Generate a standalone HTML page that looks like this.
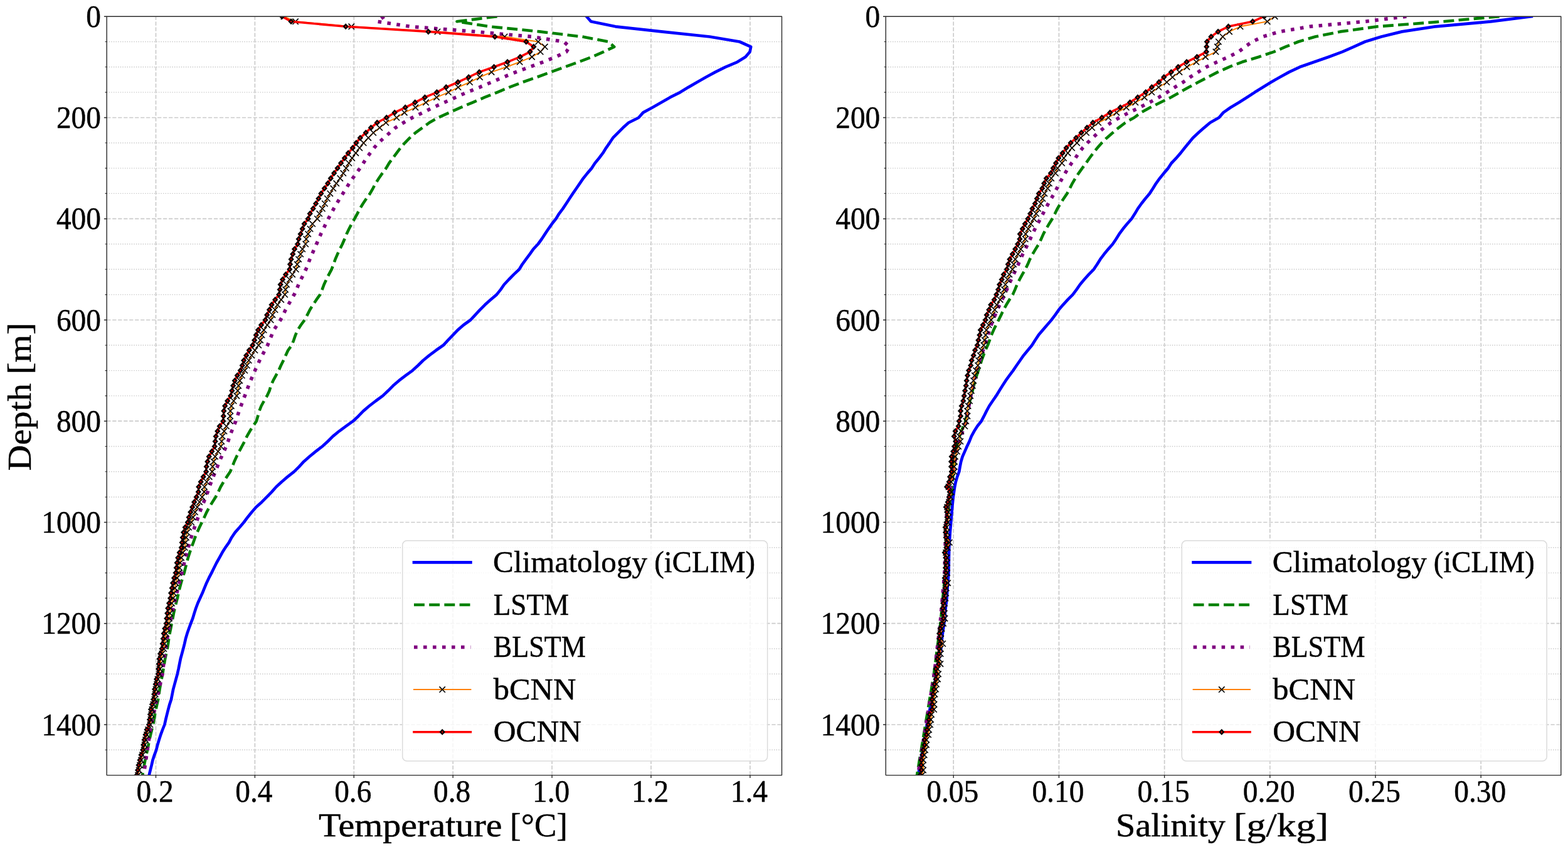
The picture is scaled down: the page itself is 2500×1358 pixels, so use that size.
<!DOCTYPE html>
<html lang="en">
<head>
<meta charset="utf-8">
<title>Depth profiles: Temperature and Salinity</title>
<style>html,body{margin:0;padding:0;background:#fff;}body{width:2500px;height:1358px;overflow:hidden;}svg{display:block;}text{fill:#000;stroke:#000;stroke-width:0.45px;}</style>
</head>
<body>
<svg width="2500" height="1358" viewBox="0 0 2500 1358" font-family="'Liberation Serif', 'DejaVu Serif', serif" stroke-linejoin="round">
<rect width="2500" height="1358" fill="#fff"/>
<defs>
<clipPath id="cl"><rect x="170.2" y="26.2" width="1076.3" height="1209.4"/></clipPath>
<clipPath id="cr"><rect x="1412.3" y="26.2" width="1076.5" height="1209.4"/></clipPath>
<g id="mx"><path d="M-4.7,-4.7L4.7,4.7M-4.7,4.7L4.7,-4.7" stroke="#000" stroke-width="1.6" fill="none"/></g>
<g id="md"><path d="M0,-5L4.7,0L0,5L-4.7,0Z" fill="#000"/><path d="M0,-1.5L1.4,0L0,1.5L-1.4,0Z" fill="#f00"/></g>
</defs>
<g fill="none" stroke-linecap="butt">
<path d="M170.2,66.5H1246.5 M170.2,106.8H1246.5 M170.2,147.1H1246.5 M170.2,227.8H1246.5 M170.2,268.1H1246.5 M170.2,308.4H1246.5 M170.2,389H1246.5 M170.2,429.3H1246.5 M170.2,469.6H1246.5 M170.2,550.3H1246.5 M170.2,590.6H1246.5 M170.2,630.9H1246.5 M170.2,711.5H1246.5 M170.2,751.8H1246.5 M170.2,792.2H1246.5 M170.2,872.8H1246.5 M170.2,913.1H1246.5 M170.2,953.4H1246.5 M170.2,1034H1246.5 M170.2,1074.3H1246.5 M170.2,1114.7H1246.5 M170.2,1195.3H1246.5" stroke="#c6c6c6" stroke-width="1.36" stroke-dasharray="1.356 2.238"/>
<path d="M170.2,187.5H1246.5 M170.2,348.7H1246.5 M170.2,510H1246.5 M170.2,671.2H1246.5 M170.2,832.5H1246.5 M170.2,993.7H1246.5 M170.2,1155H1246.5 M248.5,1235.6V26.2 M406.4,1235.6V26.2 M564.3,1235.6V26.2 M722.2,1235.6V26.2 M880.1,1235.6V26.2 M1038,1235.6V26.2 M1195.9,1235.6V26.2" stroke="#cbcbcb" stroke-width="1.7" stroke-dasharray="6.27 2.714"/>
</g>
<g clip-path="url(#cl)" fill="none" stroke-linejoin="round">
<polyline points="935.2,26.2 942.2,34.3 981.3,42.3 1054.4,50.4 1131.5,58.5 1179.2,66.5 1197.2,74.6 1195.6,82.6 1188.6,90.7 1175.6,98.8 1156.6,106.8 1140.5,114.9 1125.5,123 1111.5,131 1097.5,139.1 1084.5,147.1 1068.4,155.2 1054.4,163.3 1040.4,171.3 1025.4,179.4 1018.3,187.5 1002.3,195.5 993.3,203.6 985.3,211.6 977.3,219.7 971.9,227.8 966.3,235.8 961.3,243.9 955.2,252 948.6,260 943.4,268.1 936.5,276.1 930,284.2 924.4,292.3 919,300.3 913.4,308.4 908,316.5 902.8,324.5 897.4,332.6 891.4,340.6 886.4,348.7 880,356.8 874.4,364.8 869,372.9 863.7,381 857.9,389 850.3,397.1 844.7,405.1 838.7,413.2 832.7,421.3 827.9,429.3 819.3,437.4 811.3,445.5 803.8,453.5 798.2,461.6 791.8,469.6 782.2,477.7 773.2,485.8 765.2,493.8 757.8,501.9 750.2,510 739.1,518 729.7,526.1 722.1,534.1 714.4,542.2 706.8,550.3 695.3,558.3 684.5,566.4 674.6,574.5 666.5,582.5 657.7,590.6 646.6,598.6 636.1,606.7 626.7,614.8 618.8,622.8 610.3,630.9 599.2,639 588.8,647 579.3,655.1 571.5,663.2 563,671.2 551.5,679.3 540.7,687.3 530.8,695.4 522.7,703.5 513.9,711.5 503.3,719.6 493.4,727.7 484.4,735.7 476.9,743.8 468.8,751.8 458.6,759.9 449.1,768 440.4,776 433.2,784.1 425.4,792.2 417.4,800.2 408.4,808.3 401.4,816.3 394.8,824.4 388.8,832.5 382,840.5 374.8,848.6 369.3,856.7 365.1,864.7 359.3,872.8 354.3,880.8 349.9,888.9 345.3,897 341.3,905 337.3,913.1 333.1,921.2 329.3,929.2 325.9,937.3 322.7,945.3 318.9,953.4 315.3,961.5 312.3,969.5 309.7,977.6 307.3,985.7 304.2,993.7 301.2,1001.8 298.4,1009.8 296,1017.9 294.2,1026 292.2,1034 290,1042.1 287.8,1050.2 286.2,1058.2 284.6,1066.3 282.8,1074.3 280.6,1082.4 278.4,1090.5 276.2,1098.5 274.6,1106.6 273,1114.7 270.4,1122.7 268.2,1130.8 266.2,1138.8 264.2,1146.9 262.4,1155 259.2,1163 256.2,1171.1 253.6,1179.2 251.2,1187.2 249.2,1195.3 246.2,1203.3 243.5,1211.4 241.7,1219.5 239.7,1227.5 237.7,1235.6" stroke="#0000ff" stroke-width="4.7" stroke-linecap="square"/>
<polyline points="792.6,26.2 728.5,34.3 780.6,42.3 860.4,50.4 928.2,58.5 970.3,66.5 979.3,74.6 962.3,82.6 944.2,90.7 922.2,98.8 900.2,106.8 878.1,114.9 856.1,123 833.1,131 812,139.1 793,147.1 772.6,155.2 753.6,163.3 734.5,171.3 716.5,179.4 698.5,187.5 684.5,195.5 673.4,203.6 662.4,211.6 653.4,219.7 645.4,227.8 638.4,235.8 632.4,243.9 626.4,252 620.4,260 615.6,268.1 609.6,276.1 604,284.2 598.8,292.3 594.6,300.3 590,308.4 584.2,316.5 578.8,324.5 573.8,332.6 569.7,340.6 565.3,348.7 560.7,356.8 556.5,364.8 552.6,372.9 549.4,381 545.9,389 541.9,397.1 538.1,405.1 534.6,413.2 531.8,421.3 528.7,429.3 524.4,437.4 520.3,445.5 516.6,453.5 513.6,461.6 510.3,469.6 504.5,477.7 499.1,485.8 494.1,493.8 490,501.9 485.6,510 479.8,518 474.5,526.1 471.1,534.1 468.3,542.2 465.2,550.3 459.3,558.3 455.5,566.4 451.9,574.5 447.9,582.5 444.3,590.6 439.9,598.6 435.5,606.7 431.9,614.8 429.6,622.8 425.8,630.9 421,639 416.6,647 413.4,655.1 411.2,663.2 408.9,671.2 403.4,679.3 398.3,687.3 393.7,695.4 389.9,703.5 385.7,711.5 381.3,719.6 377.2,727.7 373.5,735.7 370.4,743.8 367.1,751.8 361.6,759.9 356.5,768 351.8,776 348,784.1 343.8,792.2 338.7,800.2 333.8,808.3 329.5,816.3 325.8,824.4 321.9,832.5 318,840.5 314.3,848.6 311,856.7 308.2,864.7 305.2,872.8 302.5,880.8 299.9,888.9 297.6,897 295.7,905 293.6,913.1 291.1,921.2 288.7,929.2 286.5,937.3 284.7,945.3 282.8,953.4 280.7,961.5 278.7,969.5 276.9,977.6 275.4,985.7 273.8,993.7 272.2,1001.8 270.6,1009.8 269.2,1017.9 268.1,1026 266.8,1034 265,1042.1 263.2,1050.2 261.9,1058.2 260.5,1066.3 259.2,1074.3 257.6,1082.4 256,1090.5 254.6,1098.5 253.5,1106.6 252.2,1114.7 250.3,1122.7 248.6,1130.8 247,1138.8 245.6,1146.9 244.2,1155 242.1,1163 240.1,1171.1 238.2,1179.2 236.7,1187.2 235.1,1195.3 233.2,1203.3 231.5,1211.4 229.9,1219.5 228.5,1227.5 227.1,1235.6" stroke="#008000" stroke-width="4.6" stroke-dasharray="16.9 7.3"/>
<polyline points="612.3,26.2 601.3,34.3 654,42.3 756.6,50.4 848,58.5 899,66.5 908,74.6 903,82.6 886,90.7 866,98.8 844.5,106.8 822.5,114.9 802.6,123 783.6,131 764.6,139.1 744.6,147.1 726.5,155.2 708.5,163.3 690.5,171.3 674.4,179.4 657.4,187.5 643.4,195.5 630.4,203.6 621.4,211.6 612.3,219.7 603.3,227.8 596.3,235.8 590.3,243.9 584.3,252 579.3,260 574,268.1 568.1,276.1 562.4,284.2 556.8,292.3 551.9,300.3 546.7,308.4 541.7,316.5 536.8,324.5 532.1,332.6 527.9,340.6 523.5,348.7 519.4,356.8 515.5,364.8 511.6,372.9 508.2,381 504.6,389 501,397.1 497.5,405.1 494,413.2 491,421.3 487.8,429.3 483.8,437.4 479.8,445.5 476,453.5 472.6,461.6 469,469.6 464.3,477.7 459.7,485.8 455.3,493.8 451.3,501.9 447.2,510 441.9,518 436.5,526.1 433.2,534.1 429.9,542.2 426.6,550.3 422.3,558.3 418.1,566.4 413.9,574.5 410.3,582.5 406.5,590.6 403,598.6 399.6,606.7 396.3,614.8 393.4,622.8 390.3,630.9 387.2,639 384.2,647 381.2,655.1 378.6,663.2 375.9,671.2 372.6,679.3 369.4,687.3 366.3,695.4 363.6,703.5 360.7,711.5 356.9,719.6 353.3,727.7 349.7,735.7 346.5,743.8 343.2,751.8 340,759.9 336.8,768 333.8,776 331.1,784.1 328.2,792.2 324.9,800.2 321.7,808.3 318.6,816.3 315.9,824.4 313,832.5 310.2,840.5 307.5,848.6 304.8,856.7 302.5,864.7 300,872.8 297.9,880.8 295.8,888.9 293.7,897 291.9,905 290,913.1 287.9,921.2 285.8,929.2 283.7,937.3 281.9,945.3 280,953.4 278.1,961.5 276.2,969.5 274.3,977.6 272.7,985.7 271,993.7 269.5,1001.8 268,1009.8 266.6,1017.9 265.3,1026 264,1034 262.9,1042.1 261.9,1050.2 260.9,1058.2 259.9,1066.3 259,1074.3 257.2,1082.4 255.4,1090.5 253.6,1098.5 251.8,1106.6 250,1114.7 248.2,1122.7 246.4,1130.8 244.6,1138.8 242.8,1146.9 241,1155 239.8,1163 238.6,1171.1 237.4,1179.2 236.2,1187.2 235,1195.3 233.8,1203.3 232.6,1211.4 231.4,1219.5 230.2,1227.5 229,1235.6" stroke="#800080" stroke-width="5.6" stroke-dasharray="5.6 9.4"/>
<polyline points="452.5,26.2 471.1,34.3 560.3,42.3 697.5,50.4 804.6,58.5 858.1,66.5 868.8,74.6 861.7,82.6 848.1,90.7 828.7,98.8 807.7,106.8 783.6,114.9 765,123 749,131 730.5,139.1 714.9,147.1 696.1,155.2 679,163.3 662.4,171.3 644.8,179.4 632.4,187.5 615.3,195.5 605.3,203.6 595.3,211.6 587.3,219.7 579.7,227.8 573.3,235.8 567.3,243.9 561.3,252 556.3,260 551.8,268.1 547.3,276.1 542.3,284.2 536.3,292.3 531.3,300.3 526.3,308.4 521.9,316.5 517.9,324.5 513.9,332.6 509.3,340.6 505.9,348.7 498.2,356.8 494.6,364.8 491.2,372.9 488.2,381 487.2,389 482.2,397.1 479.2,405.1 476.2,413.2 473.8,421.3 471.8,429.3 466.2,437.4 461.8,445.5 457.2,453.5 455.2,461.6 454.2,469.6 448.2,477.7 442.5,485.8 438.5,493.8 434.5,501.9 431.7,510 426.1,518 420.7,526.1 417.6,534.1 415.1,542.2 412.3,550.3 406.4,558.3 401.3,566.4 396.7,574.5 393.8,582.5 390.3,590.6 385.8,598.6 382.3,606.7 380.3,614.8 379,622.8 377.3,630.9 372.6,639 368.9,647 367.3,655.1 367,663.2 366.9,671.2 361,679.3 357.4,687.3 354.6,695.4 353.4,703.5 352.2,711.5 347.7,719.6 343,727.7 340.6,735.7 338.9,743.8 338.2,751.8 333.7,759.9 329.6,768 326,776 325.4,784.1 322.2,792.2 318.1,800.2 314.5,808.3 311,816.3 307.8,824.4 305.2,832.5 301.1,840.5 298.4,848.6 296.9,856.7 295.8,864.7 294.7,872.8 291.6,880.8 289.1,888.9 287.4,897 286.3,905 285.2,913.1 282.5,921.2 280.4,929.2 278.9,937.3 277.2,945.3 276.1,953.4 274,961.5 272.1,969.5 271,977.6 269.9,985.7 269.2,993.7 266.6,1001.8 264.8,1009.8 263.6,1017.9 262.4,1026 261.2,1034 258.4,1042.1 256.6,1050.2 255.6,1058.2 254.8,1066.3 254.2,1074.3 251.6,1082.4 250.2,1090.5 248.6,1098.5 247.8,1106.6 246.6,1114.7 244.5,1122.7 242.5,1130.8 241.5,1138.8 240.5,1146.9 239.5,1155 236.1,1163 234.1,1171.1 232.1,1179.2 230.7,1187.2 229.7,1195.3 227.1,1203.3 225.1,1211.4 223.1,1219.5 221.7,1227.5 220.1,1235.6" stroke="#ff8000" stroke-width="2"/>
<use href="#mx" x="452.5" y="26.2"/><use href="#mx" x="471.1" y="34.3"/><use href="#mx" x="560.3" y="42.3"/><use href="#mx" x="697.5" y="50.4"/><use href="#mx" x="804.6" y="58.5"/><use href="#mx" x="858.1" y="66.5"/><use href="#mx" x="868.8" y="74.6"/><use href="#mx" x="861.7" y="82.6"/><use href="#mx" x="848.1" y="90.7"/><use href="#mx" x="828.7" y="98.8"/><use href="#mx" x="807.7" y="106.8"/><use href="#mx" x="783.6" y="114.9"/><use href="#mx" x="765" y="123"/><use href="#mx" x="749" y="131"/><use href="#mx" x="730.5" y="139.1"/><use href="#mx" x="714.9" y="147.1"/><use href="#mx" x="696.1" y="155.2"/><use href="#mx" x="679" y="163.3"/><use href="#mx" x="662.4" y="171.3"/><use href="#mx" x="644.8" y="179.4"/><use href="#mx" x="632.4" y="187.5"/><use href="#mx" x="615.3" y="195.5"/><use href="#mx" x="605.3" y="203.6"/><use href="#mx" x="595.3" y="211.6"/><use href="#mx" x="587.3" y="219.7"/><use href="#mx" x="579.7" y="227.8"/><use href="#mx" x="573.3" y="235.8"/><use href="#mx" x="567.3" y="243.9"/><use href="#mx" x="561.3" y="252"/><use href="#mx" x="556.3" y="260"/><use href="#mx" x="551.8" y="268.1"/><use href="#mx" x="547.3" y="276.1"/><use href="#mx" x="542.3" y="284.2"/><use href="#mx" x="536.3" y="292.3"/><use href="#mx" x="531.3" y="300.3"/><use href="#mx" x="526.3" y="308.4"/><use href="#mx" x="521.9" y="316.5"/><use href="#mx" x="517.9" y="324.5"/><use href="#mx" x="513.9" y="332.6"/><use href="#mx" x="509.3" y="340.6"/><use href="#mx" x="505.9" y="348.7"/><use href="#mx" x="498.2" y="356.8"/><use href="#mx" x="494.6" y="364.8"/><use href="#mx" x="491.2" y="372.9"/><use href="#mx" x="488.2" y="381"/><use href="#mx" x="487.2" y="389"/><use href="#mx" x="482.2" y="397.1"/><use href="#mx" x="479.2" y="405.1"/><use href="#mx" x="476.2" y="413.2"/><use href="#mx" x="473.8" y="421.3"/><use href="#mx" x="471.8" y="429.3"/><use href="#mx" x="466.2" y="437.4"/><use href="#mx" x="461.8" y="445.5"/><use href="#mx" x="457.2" y="453.5"/><use href="#mx" x="455.2" y="461.6"/><use href="#mx" x="454.2" y="469.6"/><use href="#mx" x="448.2" y="477.7"/><use href="#mx" x="442.5" y="485.8"/><use href="#mx" x="438.5" y="493.8"/><use href="#mx" x="434.5" y="501.9"/><use href="#mx" x="431.7" y="510"/><use href="#mx" x="426.1" y="518"/><use href="#mx" x="420.7" y="526.1"/><use href="#mx" x="417.6" y="534.1"/><use href="#mx" x="415.1" y="542.2"/><use href="#mx" x="412.3" y="550.3"/><use href="#mx" x="406.4" y="558.3"/><use href="#mx" x="401.3" y="566.4"/><use href="#mx" x="396.7" y="574.5"/><use href="#mx" x="393.8" y="582.5"/><use href="#mx" x="390.3" y="590.6"/><use href="#mx" x="385.8" y="598.6"/><use href="#mx" x="382.3" y="606.7"/><use href="#mx" x="380.3" y="614.8"/><use href="#mx" x="379" y="622.8"/><use href="#mx" x="377.3" y="630.9"/><use href="#mx" x="372.6" y="639"/><use href="#mx" x="368.9" y="647"/><use href="#mx" x="367.3" y="655.1"/><use href="#mx" x="367" y="663.2"/><use href="#mx" x="366.9" y="671.2"/><use href="#mx" x="361" y="679.3"/><use href="#mx" x="357.4" y="687.3"/><use href="#mx" x="354.6" y="695.4"/><use href="#mx" x="353.4" y="703.5"/><use href="#mx" x="352.2" y="711.5"/><use href="#mx" x="347.7" y="719.6"/><use href="#mx" x="343" y="727.7"/><use href="#mx" x="340.6" y="735.7"/><use href="#mx" x="338.9" y="743.8"/><use href="#mx" x="338.2" y="751.8"/><use href="#mx" x="333.7" y="759.9"/><use href="#mx" x="329.6" y="768"/><use href="#mx" x="326" y="776"/><use href="#mx" x="325.4" y="784.1"/><use href="#mx" x="322.2" y="792.2"/><use href="#mx" x="318.1" y="800.2"/><use href="#mx" x="314.5" y="808.3"/><use href="#mx" x="311" y="816.3"/><use href="#mx" x="307.8" y="824.4"/><use href="#mx" x="305.2" y="832.5"/><use href="#mx" x="301.1" y="840.5"/><use href="#mx" x="298.4" y="848.6"/><use href="#mx" x="296.9" y="856.7"/><use href="#mx" x="295.8" y="864.7"/><use href="#mx" x="294.7" y="872.8"/><use href="#mx" x="291.6" y="880.8"/><use href="#mx" x="289.1" y="888.9"/><use href="#mx" x="287.4" y="897"/><use href="#mx" x="286.3" y="905"/><use href="#mx" x="285.2" y="913.1"/><use href="#mx" x="282.5" y="921.2"/><use href="#mx" x="280.4" y="929.2"/><use href="#mx" x="278.9" y="937.3"/><use href="#mx" x="277.2" y="945.3"/><use href="#mx" x="276.1" y="953.4"/><use href="#mx" x="274" y="961.5"/><use href="#mx" x="272.1" y="969.5"/><use href="#mx" x="271" y="977.6"/><use href="#mx" x="269.9" y="985.7"/><use href="#mx" x="269.2" y="993.7"/><use href="#mx" x="266.6" y="1001.8"/><use href="#mx" x="264.8" y="1009.8"/><use href="#mx" x="263.6" y="1017.9"/><use href="#mx" x="262.4" y="1026"/><use href="#mx" x="261.2" y="1034"/><use href="#mx" x="258.4" y="1042.1"/><use href="#mx" x="256.6" y="1050.2"/><use href="#mx" x="255.6" y="1058.2"/><use href="#mx" x="254.8" y="1066.3"/><use href="#mx" x="254.2" y="1074.3"/><use href="#mx" x="251.6" y="1082.4"/><use href="#mx" x="250.2" y="1090.5"/><use href="#mx" x="248.6" y="1098.5"/><use href="#mx" x="247.8" y="1106.6"/><use href="#mx" x="246.6" y="1114.7"/><use href="#mx" x="244.5" y="1122.7"/><use href="#mx" x="242.5" y="1130.8"/><use href="#mx" x="241.5" y="1138.8"/><use href="#mx" x="240.5" y="1146.9"/><use href="#mx" x="239.5" y="1155"/><use href="#mx" x="236.1" y="1163"/><use href="#mx" x="234.1" y="1171.1"/><use href="#mx" x="232.1" y="1179.2"/><use href="#mx" x="230.7" y="1187.2"/><use href="#mx" x="229.7" y="1195.3"/><use href="#mx" x="227.1" y="1203.3"/><use href="#mx" x="225.1" y="1211.4"/><use href="#mx" x="223.1" y="1219.5"/><use href="#mx" x="221.7" y="1227.5"/><use href="#mx" x="220.1" y="1235.6"/>
<polyline points="449.7,26.2 464.1,34.3 551.2,42.3 682.9,50.4 789,58.5 838.9,66.5 850.9,74.6 845.1,82.6 829.3,90.7 809.1,98.8 787.6,106.8 764.2,114.9 747.2,123 730.1,131 711.3,139.1 696.5,147.1 677.4,155.2 661.8,163.3 646.2,171.3 629.2,179.4 616.3,187.5 601.3,195.5 591.5,203.6 583.3,211.6 574.3,219.7 567.9,227.8 562.3,235.8 555.2,243.9 549.4,252 543.6,260 538.2,268.1 532.7,276.1 527.3,284.2 522.7,292.3 517.3,300.3 511.9,308.4 507.9,316.5 503.6,324.5 499.2,332.6 494.2,340.6 491.2,348.7 485.2,356.8 482.2,364.8 479.2,372.9 476.2,381 474.6,389 469.6,397.1 466.8,405.1 464.2,413.2 462.6,421.3 461.8,429.3 455.6,437.4 450.6,445.5 447.2,453.5 446.2,461.6 444.8,469.6 438.7,477.7 433.1,485.8 429.5,493.8 425.7,501.9 423.1,510 416.5,518 411.6,526.1 408.3,534.1 405.7,542.2 402.7,550.3 397.3,558.3 392.7,566.4 388.7,574.5 386.3,582.5 383.3,590.6 378.3,598.6 374.3,606.7 371.7,614.8 369.9,622.8 367.7,630.9 362.7,639 358.7,647 356.9,655.1 356.3,663.2 355.9,671.2 350.2,679.3 346.8,687.3 344.2,695.4 343.2,703.5 342.2,711.5 337.8,719.6 333.2,727.7 330.8,735.7 329.2,743.8 328.6,751.8 324.2,759.9 320.2,768 316.8,776 316.3,784.1 313.2,792.2 309.7,800.2 306.7,808.3 303.8,816.3 301.2,824.4 299.2,832.5 295.2,840.5 292.6,848.6 291.2,856.7 290.2,864.7 289.2,872.8 286.2,880.8 283.8,888.9 282.2,897 281.2,905 280.2,913.1 277.6,921.2 275.6,929.2 274.2,937.3 272.6,945.3 271.6,953.4 269.6,961.5 267.8,969.5 266.8,977.6 265.8,985.7 265.2,993.7 262.8,1001.8 261.2,1009.8 260.2,1017.9 259.2,1026 258.2,1034 255.6,1042.1 254,1050.2 253.2,1058.2 252.6,1066.3 252.2,1074.3 249.6,1082.4 248.2,1090.5 246.6,1098.5 245.8,1106.6 244.6,1114.7 242.5,1122.7 240.5,1130.8 239.5,1138.8 238.5,1146.9 237.5,1155 234.1,1163 232.1,1171.1 230.1,1179.2 228.7,1187.2 227.7,1195.3 225.1,1203.3 223.1,1211.4 221.1,1219.5 219.7,1227.5 218.1,1235.6" stroke="#ff0000" stroke-width="3.6"/>
<use href="#md" x="449.7" y="26.2"/><use href="#md" x="464.1" y="34.3"/><use href="#md" x="551.2" y="42.3"/><use href="#md" x="682.9" y="50.4"/><use href="#md" x="789" y="58.5"/><use href="#md" x="838.9" y="66.5"/><use href="#md" x="850.9" y="74.6"/><use href="#md" x="845.1" y="82.6"/><use href="#md" x="829.3" y="90.7"/><use href="#md" x="809.1" y="98.8"/><use href="#md" x="787.6" y="106.8"/><use href="#md" x="764.2" y="114.9"/><use href="#md" x="747.2" y="123"/><use href="#md" x="730.1" y="131"/><use href="#md" x="711.3" y="139.1"/><use href="#md" x="696.5" y="147.1"/><use href="#md" x="677.4" y="155.2"/><use href="#md" x="661.8" y="163.3"/><use href="#md" x="646.2" y="171.3"/><use href="#md" x="629.2" y="179.4"/><use href="#md" x="616.3" y="187.5"/><use href="#md" x="601.3" y="195.5"/><use href="#md" x="591.5" y="203.6"/><use href="#md" x="583.3" y="211.6"/><use href="#md" x="574.3" y="219.7"/><use href="#md" x="567.9" y="227.8"/><use href="#md" x="562.3" y="235.8"/><use href="#md" x="555.2" y="243.9"/><use href="#md" x="549.4" y="252"/><use href="#md" x="543.6" y="260"/><use href="#md" x="538.2" y="268.1"/><use href="#md" x="532.7" y="276.1"/><use href="#md" x="527.3" y="284.2"/><use href="#md" x="522.7" y="292.3"/><use href="#md" x="517.3" y="300.3"/><use href="#md" x="511.9" y="308.4"/><use href="#md" x="507.9" y="316.5"/><use href="#md" x="503.6" y="324.5"/><use href="#md" x="499.2" y="332.6"/><use href="#md" x="494.2" y="340.6"/><use href="#md" x="491.2" y="348.7"/><use href="#md" x="485.2" y="356.8"/><use href="#md" x="482.2" y="364.8"/><use href="#md" x="479.2" y="372.9"/><use href="#md" x="476.2" y="381"/><use href="#md" x="474.6" y="389"/><use href="#md" x="469.6" y="397.1"/><use href="#md" x="466.8" y="405.1"/><use href="#md" x="464.2" y="413.2"/><use href="#md" x="462.6" y="421.3"/><use href="#md" x="461.8" y="429.3"/><use href="#md" x="455.6" y="437.4"/><use href="#md" x="450.6" y="445.5"/><use href="#md" x="447.2" y="453.5"/><use href="#md" x="446.2" y="461.6"/><use href="#md" x="444.8" y="469.6"/><use href="#md" x="438.7" y="477.7"/><use href="#md" x="433.1" y="485.8"/><use href="#md" x="429.5" y="493.8"/><use href="#md" x="425.7" y="501.9"/><use href="#md" x="423.1" y="510"/><use href="#md" x="416.5" y="518"/><use href="#md" x="411.6" y="526.1"/><use href="#md" x="408.3" y="534.1"/><use href="#md" x="405.7" y="542.2"/><use href="#md" x="402.7" y="550.3"/><use href="#md" x="397.3" y="558.3"/><use href="#md" x="392.7" y="566.4"/><use href="#md" x="388.7" y="574.5"/><use href="#md" x="386.3" y="582.5"/><use href="#md" x="383.3" y="590.6"/><use href="#md" x="378.3" y="598.6"/><use href="#md" x="374.3" y="606.7"/><use href="#md" x="371.7" y="614.8"/><use href="#md" x="369.9" y="622.8"/><use href="#md" x="367.7" y="630.9"/><use href="#md" x="362.7" y="639"/><use href="#md" x="358.7" y="647"/><use href="#md" x="356.9" y="655.1"/><use href="#md" x="356.3" y="663.2"/><use href="#md" x="355.9" y="671.2"/><use href="#md" x="350.2" y="679.3"/><use href="#md" x="346.8" y="687.3"/><use href="#md" x="344.2" y="695.4"/><use href="#md" x="343.2" y="703.5"/><use href="#md" x="342.2" y="711.5"/><use href="#md" x="337.8" y="719.6"/><use href="#md" x="333.2" y="727.7"/><use href="#md" x="330.8" y="735.7"/><use href="#md" x="329.2" y="743.8"/><use href="#md" x="328.6" y="751.8"/><use href="#md" x="324.2" y="759.9"/><use href="#md" x="320.2" y="768"/><use href="#md" x="316.8" y="776"/><use href="#md" x="316.3" y="784.1"/><use href="#md" x="313.2" y="792.2"/><use href="#md" x="309.7" y="800.2"/><use href="#md" x="306.7" y="808.3"/><use href="#md" x="303.8" y="816.3"/><use href="#md" x="301.2" y="824.4"/><use href="#md" x="299.2" y="832.5"/><use href="#md" x="295.2" y="840.5"/><use href="#md" x="292.6" y="848.6"/><use href="#md" x="291.2" y="856.7"/><use href="#md" x="290.2" y="864.7"/><use href="#md" x="289.2" y="872.8"/><use href="#md" x="286.2" y="880.8"/><use href="#md" x="283.8" y="888.9"/><use href="#md" x="282.2" y="897"/><use href="#md" x="281.2" y="905"/><use href="#md" x="280.2" y="913.1"/><use href="#md" x="277.6" y="921.2"/><use href="#md" x="275.6" y="929.2"/><use href="#md" x="274.2" y="937.3"/><use href="#md" x="272.6" y="945.3"/><use href="#md" x="271.6" y="953.4"/><use href="#md" x="269.6" y="961.5"/><use href="#md" x="267.8" y="969.5"/><use href="#md" x="266.8" y="977.6"/><use href="#md" x="265.8" y="985.7"/><use href="#md" x="265.2" y="993.7"/><use href="#md" x="262.8" y="1001.8"/><use href="#md" x="261.2" y="1009.8"/><use href="#md" x="260.2" y="1017.9"/><use href="#md" x="259.2" y="1026"/><use href="#md" x="258.2" y="1034"/><use href="#md" x="255.6" y="1042.1"/><use href="#md" x="254" y="1050.2"/><use href="#md" x="253.2" y="1058.2"/><use href="#md" x="252.6" y="1066.3"/><use href="#md" x="252.2" y="1074.3"/><use href="#md" x="249.6" y="1082.4"/><use href="#md" x="248.2" y="1090.5"/><use href="#md" x="246.6" y="1098.5"/><use href="#md" x="245.8" y="1106.6"/><use href="#md" x="244.6" y="1114.7"/><use href="#md" x="242.5" y="1122.7"/><use href="#md" x="240.5" y="1130.8"/><use href="#md" x="239.5" y="1138.8"/><use href="#md" x="238.5" y="1146.9"/><use href="#md" x="237.5" y="1155"/><use href="#md" x="234.1" y="1163"/><use href="#md" x="232.1" y="1171.1"/><use href="#md" x="230.1" y="1179.2"/><use href="#md" x="228.7" y="1187.2"/><use href="#md" x="227.7" y="1195.3"/><use href="#md" x="225.1" y="1203.3"/><use href="#md" x="223.1" y="1211.4"/><use href="#md" x="221.1" y="1219.5"/><use href="#md" x="219.7" y="1227.5"/><use href="#md" x="218.1" y="1235.6"/>
</g>
<path d="M170.2,26.2h-4.3 M170.2,187.5h-4.3 M170.2,348.7h-4.3 M170.2,510h-4.3 M170.2,671.2h-4.3 M170.2,832.5h-4.3 M170.2,993.7h-4.3 M170.2,1155h-4.3 M248.5,1235.6v4.3 M406.4,1235.6v4.3 M564.3,1235.6v4.3 M722.2,1235.6v4.3 M880.1,1235.6v4.3 M1038,1235.6v4.3 M1195.9,1235.6v4.3" stroke="#2a2a2a" stroke-width="1.4" fill="none"/>
<path d="M170.2,66.5h-2.6 M170.2,106.8h-2.6 M170.2,147.1h-2.6 M170.2,227.8h-2.6 M170.2,268.1h-2.6 M170.2,308.4h-2.6 M170.2,389h-2.6 M170.2,429.3h-2.6 M170.2,469.6h-2.6 M170.2,550.3h-2.6 M170.2,590.6h-2.6 M170.2,630.9h-2.6 M170.2,711.5h-2.6 M170.2,751.8h-2.6 M170.2,792.2h-2.6 M170.2,872.8h-2.6 M170.2,913.1h-2.6 M170.2,953.4h-2.6 M170.2,1034h-2.6 M170.2,1074.3h-2.6 M170.2,1114.7h-2.6 M170.2,1195.3h-2.6" stroke="#2a2a2a" stroke-width="1.1" fill="none"/>
<rect x="170.2" y="26.2" width="1076.3" height="1209.4" fill="none" stroke="#2a2a2a" stroke-width="1.4"/>
<rect x="641.7" y="861.8" width="581.9" height="351.3" rx="7" ry="7" fill="#fff" fill-opacity="0.8" stroke="#dbdbdb" stroke-width="1.5"/>
<g fill="none">
<path d="M660,896.4H750.4" stroke="#0000ff" stroke-width="4.7" stroke-linecap="square"/>
<path d="M660,964.0H750.4" stroke="#008000" stroke-width="4.6" stroke-dasharray="16.9 7.3"/>
<path d="M660,1031.55H750.4" stroke="#800080" stroke-width="5.6" stroke-dasharray="5.6 9.4"/>
<path d="M660,1099.05H750.4" stroke="#ff8000" stroke-width="2" stroke-linecap="square"/>
<use href="#mx" x="705.2" y="1099.05"/>
<path d="M660,1166.75H750.4" stroke="#ff0000" stroke-width="3.6" stroke-linecap="square"/>
<use href="#md" x="705.2" y="1166.75"/>
</g>
<text y="912.2" font-size="48.5"  xml:space="preserve"><tspan x="786.1" textLength="246.1" lengthAdjust="spacingAndGlyphs">Climatology</tspan><tspan> </tspan><tspan x="1043.2" textLength="161" lengthAdjust="spacingAndGlyphs">(iCLIM)</tspan></text>
<text x="786.7" y="979.5" font-size="48.5" textLength="120.5" lengthAdjust="spacingAndGlyphs">LSTM</text>
<text x="786.7" y="1047.0" font-size="48.5" textLength="147.3" lengthAdjust="spacingAndGlyphs">BLSTM</text>
<text x="786.7" y="1114.7" font-size="48.5" textLength="131.8" lengthAdjust="spacingAndGlyphs">bCNN</text>
<text x="786.7" y="1182.3" font-size="48.5" textLength="140.5" lengthAdjust="spacingAndGlyphs">OCNN</text>
<text x="161" y="42.9" font-size="50" text-anchor="end" textLength="23.7" lengthAdjust="spacingAndGlyphs">0</text>
<text x="161" y="204.2" font-size="50" text-anchor="end" textLength="71.1" lengthAdjust="spacingAndGlyphs">200</text>
<text x="161" y="365.4" font-size="50" text-anchor="end" textLength="71.1" lengthAdjust="spacingAndGlyphs">400</text>
<text x="161" y="526.7" font-size="50" text-anchor="end" textLength="71.1" lengthAdjust="spacingAndGlyphs">600</text>
<text x="161" y="687.9" font-size="50" text-anchor="end" textLength="71.1" lengthAdjust="spacingAndGlyphs">800</text>
<text x="161" y="849.2" font-size="50" text-anchor="end" textLength="94.8" lengthAdjust="spacingAndGlyphs">1000</text>
<text x="161" y="1010.4" font-size="50" text-anchor="end" textLength="94.8" lengthAdjust="spacingAndGlyphs">1200</text>
<text x="161" y="1171.7" font-size="50" text-anchor="end" textLength="94.8" lengthAdjust="spacingAndGlyphs">1400</text>
<text x="247" y="1278" font-size="50" text-anchor="middle" textLength="59.2" lengthAdjust="spacingAndGlyphs">0.2</text>
<text x="404.9" y="1278" font-size="50" text-anchor="middle" textLength="59.2" lengthAdjust="spacingAndGlyphs">0.4</text>
<text x="562.8" y="1278" font-size="50" text-anchor="middle" textLength="59.2" lengthAdjust="spacingAndGlyphs">0.6</text>
<text x="720.7" y="1278" font-size="50" text-anchor="middle" textLength="59.2" lengthAdjust="spacingAndGlyphs">0.8</text>
<text x="878.6" y="1278" font-size="50" text-anchor="middle" textLength="59.2" lengthAdjust="spacingAndGlyphs">1.0</text>
<text x="1036.5" y="1278" font-size="50" text-anchor="middle" textLength="59.2" lengthAdjust="spacingAndGlyphs">1.2</text>
<text x="1194.4" y="1278" font-size="50" text-anchor="middle" textLength="59.2" lengthAdjust="spacingAndGlyphs">1.4</text>
<text y="1333" font-size="53"  xml:space="preserve"><tspan x="508" textLength="292.5" lengthAdjust="spacingAndGlyphs">Temperature</tspan><tspan> </tspan><tspan x="813" textLength="92" lengthAdjust="spacingAndGlyphs">[°C]</tspan></text>
<g fill="none" stroke-linecap="butt">
<path d="M1412.3,66.5H2488.8 M1412.3,106.8H2488.8 M1412.3,147.1H2488.8 M1412.3,227.8H2488.8 M1412.3,268.1H2488.8 M1412.3,308.4H2488.8 M1412.3,389H2488.8 M1412.3,429.3H2488.8 M1412.3,469.6H2488.8 M1412.3,550.3H2488.8 M1412.3,590.6H2488.8 M1412.3,630.9H2488.8 M1412.3,711.5H2488.8 M1412.3,751.8H2488.8 M1412.3,792.2H2488.8 M1412.3,872.8H2488.8 M1412.3,913.1H2488.8 M1412.3,953.4H2488.8 M1412.3,1034H2488.8 M1412.3,1074.3H2488.8 M1412.3,1114.7H2488.8 M1412.3,1195.3H2488.8" stroke="#c6c6c6" stroke-width="1.36" stroke-dasharray="1.356 2.238"/>
<path d="M1412.3,187.5H2488.8 M1412.3,348.7H2488.8 M1412.3,510H2488.8 M1412.3,671.2H2488.8 M1412.3,832.5H2488.8 M1412.3,993.7H2488.8 M1412.3,1155H2488.8 M1520.2,1235.6V26.2 M1688.4,1235.6V26.2 M1856.6,1235.6V26.2 M2024.8,1235.6V26.2 M2193,1235.6V26.2 M2361.2,1235.6V26.2" stroke="#cbcbcb" stroke-width="1.7" stroke-dasharray="6.27 2.714"/>
</g>
<g clip-path="url(#cr)" fill="none" stroke-linejoin="round">
<polyline points="2441.7,26.2 2376.6,34.3 2288.5,42.3 2235.4,50.4 2202.3,58.5 2176.3,66.5 2158.3,74.6 2140.2,82.6 2118.4,90.7 2095.4,98.8 2072.4,106.8 2055.3,114.9 2040.6,123 2026.6,131 2013.6,139.1 2000.6,147.1 1988.1,155.2 1975.5,163.3 1962.1,171.3 1950.5,179.4 1943.5,187.5 1929.4,195.5 1919.8,203.6 1910.8,211.6 1902,219.7 1895.4,227.8 1888.8,235.8 1882.4,243.9 1875.4,252 1867.7,260 1862.5,268.1 1855.6,276.1 1849.1,284.2 1843.2,292.3 1838.3,300.3 1833,308.4 1826.2,316.5 1819.9,324.5 1814.1,332.6 1809.4,340.6 1804.2,348.7 1797.1,356.8 1790.5,364.8 1784.5,372.9 1779.5,381 1774.1,389 1767,397.1 1760.4,405.1 1754.3,413.2 1749.3,421.3 1743.9,429.3 1736,437.4 1728.7,445.5 1722,453.5 1716.4,461.6 1710.4,469.6 1702.4,477.7 1694.9,485.8 1688.1,493.8 1682.5,501.9 1676.4,510 1669.5,518 1662.5,526.1 1655.8,534.1 1650.4,542.2 1645.4,550.3 1638.8,558.3 1632,566.4 1626.4,574.5 1620.8,582.5 1615.3,590.6 1609.3,598.6 1603.5,606.7 1598.3,614.8 1593.3,622.8 1588.3,630.9 1582.7,639 1577.3,647 1572.9,655.1 1568.9,663.2 1564.7,671.2 1558.3,679.3 1553.2,687.3 1548.8,695.4 1545.6,703.5 1541.8,711.5 1538.2,719.6 1534.6,727.7 1532.2,735.7 1530.6,743.8 1529.2,751.8 1526.2,759.9 1523.8,768 1522.2,776 1521,784.1 1519.8,792.2 1519,800.2 1518.2,808.3 1517.5,816.3 1516.9,824.4 1516.2,832.5 1515.5,840.5 1514.8,848.6 1514.3,856.7 1513.7,864.7 1513.2,872.8 1513.1,880.8 1512.9,888.9 1512.8,897 1512.7,905 1512.6,913.1 1511.9,921.2 1511.2,929.2 1510.6,937.3 1510.1,945.3 1509.6,953.4 1508.6,961.5 1507.6,969.5 1506.7,977.6 1506,985.7 1505.2,993.7 1504,1001.8 1502.9,1009.8 1501.9,1017.9 1501.1,1026 1500.2,1034 1498.5,1042.1 1496.9,1050.2 1495.5,1058.2 1494.3,1066.3 1493,1074.3 1491.5,1082.4 1490,1090.5 1488.5,1098.5 1487,1106.6 1485.5,1114.7 1484,1122.7 1482.5,1130.8 1481,1138.8 1479.5,1146.9 1478,1155 1476.6,1163 1475.2,1171.1 1473.8,1179.2 1472.4,1187.2 1471,1195.3 1469.6,1203.3 1468.2,1211.4 1466.8,1219.5 1465.4,1227.5 1464,1235.6" stroke="#0000ff" stroke-width="4.7" stroke-linecap="square"/>
<polyline points="2390.6,26.2 2300.5,34.3 2196.3,42.3 2137,50.4 2097,58.5 2070,66.5 2049.5,74.6 2031,82.6 2007,90.7 1980.5,98.8 1959.5,106.8 1941.5,114.9 1926,123 1910.4,131 1895.4,139.1 1881,147.1 1866.7,155.2 1850.3,163.3 1833.9,171.3 1819.3,179.4 1808.3,187.5 1794.2,195.5 1783.6,203.6 1774.2,211.6 1764.8,219.7 1756.6,227.8 1749.6,235.8 1743.1,243.9 1737.1,252 1731.5,260 1725.5,268.1 1719.8,276.1 1714.5,284.2 1709.7,292.3 1705.7,300.3 1701.4,308.4 1695.9,316.5 1690.7,324.5 1685.9,332.6 1682,340.6 1677.8,348.7 1672.7,356.8 1667.9,364.8 1663.6,372.9 1660,381 1656.1,389 1651.1,397.1 1646.4,405.1 1642.1,413.2 1638.6,421.3 1634.7,429.3 1630,437.4 1625.6,445.5 1621.6,453.5 1618.3,461.6 1614.7,469.6 1609.4,477.7 1604.5,485.8 1600,493.8 1596.2,501.9 1592.2,510 1588.1,518 1584.2,526.1 1580.7,534.1 1577.9,542.2 1574.7,550.3 1571.2,558.3 1568,566.4 1565,574.5 1562.6,582.5 1559.9,590.6 1557.2,598.6 1554.8,606.7 1552.5,614.8 1550.6,622.8 1548.6,630.9 1546.4,639 1544.3,647 1542.4,655.1 1540.9,663.2 1539.2,671.2 1535.9,679.3 1532.8,687.3 1530,695.4 1527.7,703.5 1525.2,711.5 1524,719.6 1522.9,727.7 1521.9,735.7 1521.1,743.8 1520.2,751.8 1519.3,759.9 1518.4,768 1517.6,776 1516.9,784.1 1516.2,792.2 1514.5,800.2 1512.9,808.3 1511.5,816.3 1510.3,824.4 1509,832.5 1508.8,840.5 1508.6,848.6 1508.4,856.7 1508.2,864.7 1508,872.8 1507.8,880.8 1507.6,888.9 1507.4,897 1507.2,905 1507,913.1 1506.2,921.2 1505.5,929.2 1504.8,937.3 1504,945.3 1503.2,953.4 1502.5,961.5 1501.8,969.5 1501,977.6 1500.2,985.7 1499.5,993.7 1498.5,1001.8 1497.4,1009.8 1496.3,1017.9 1495.3,1026 1494.2,1034 1493.2,1042.1 1492.2,1050.2 1491.1,1058.2 1490,1066.3 1489,1074.3 1487.7,1082.4 1486.3,1090.5 1485,1098.5 1483.6,1106.6 1482.2,1114.7 1480.9,1122.7 1479.5,1130.8 1478.2,1138.8 1476.8,1146.9 1475.5,1155 1474.2,1163 1472.8,1171.1 1471.5,1179.2 1470.1,1187.2 1468.8,1195.3 1467.4,1203.3 1466,1211.4 1464.7,1219.5 1463.3,1227.5 1462,1235.6" stroke="#008000" stroke-width="4.6" stroke-dasharray="16.9 7.3"/>
<polyline points="2242.4,26.2 2176.3,34.3 2088.4,42.3 2040.3,50.4 2013.3,58.5 1996.6,66.5 1984.9,74.6 1974.9,82.6 1958.5,90.7 1940.5,98.8 1923.4,106.8 1910.4,114.9 1897.4,123 1886.4,131 1873,139.1 1860.7,147.1 1847.7,155.2 1832.7,163.3 1816.7,171.3 1800.2,179.4 1784.6,187.5 1771.2,195.5 1760.2,203.6 1750.8,211.6 1742.1,219.7 1733.7,227.8 1726.1,235.8 1720.1,243.9 1714.5,252 1708.5,260 1703,268.1 1698.2,276.1 1693.6,284.2 1689,292.3 1685,300.3 1680.8,308.4 1676,316.5 1671.4,324.5 1666.9,332.6 1662.9,340.6 1658.7,348.7 1654.4,356.8 1650.2,364.8 1646.1,372.9 1642.5,381 1638.7,389 1634.7,397.1 1630.7,405.1 1626.9,413.2 1623.5,421.3 1619.9,429.3 1616,437.4 1612.2,445.5 1608.5,453.5 1605.2,461.6 1601.8,469.6 1597.8,477.7 1593.9,485.8 1590.1,493.8 1586.7,501.9 1583.2,510 1580.4,518 1577.7,526.1 1575.1,534.1 1572.8,542.2 1570.3,550.3 1567.4,558.3 1564.6,566.4 1561.9,574.5 1559.5,582.5 1557,590.6 1555.1,598.6 1553.2,606.7 1551.3,614.8 1549.7,622.8 1548,630.9 1546.4,639 1544.8,647 1543.3,655.1 1541.9,663.2 1540.5,671.2 1537.6,679.3 1534.8,687.3 1532,695.4 1529.6,703.5 1527,711.5 1525.5,719.6 1524,727.7 1522.6,735.7 1521.3,743.8 1520,751.8 1518.5,759.9 1517,768 1515.6,776 1514.3,784.1 1513,792.2 1511.9,800.2 1510.9,808.3 1509.8,816.3 1509,824.4 1508,832.5 1507.8,840.5 1507.6,848.6 1507.4,856.7 1507.2,864.7 1507,872.8 1506.8,880.8 1506.6,888.9 1506.4,897 1506.2,905 1506,913.1 1505.3,921.2 1504.6,929.2 1503.9,937.3 1503.2,945.3 1502.5,953.4 1501.8,961.5 1501.1,969.5 1500.4,977.6 1499.7,985.7 1499,993.7 1498,1001.8 1497.1,1009.8 1496.2,1017.9 1495.2,1026 1494.2,1034 1493.3,1042.1 1492.3,1050.2 1491.4,1058.2 1490.5,1066.3 1489.5,1074.3 1488.2,1082.4 1486.9,1090.5 1485.6,1098.5 1484.3,1106.6 1483,1114.7 1481.7,1122.7 1480.4,1130.8 1479.1,1138.8 1477.8,1146.9 1476.5,1155 1475.2,1163 1473.9,1171.1 1472.6,1179.2 1471.3,1187.2 1470,1195.3 1468.7,1203.3 1467.4,1211.4 1466.1,1219.5 1464.8,1227.5 1463.5,1235.6" stroke="#800080" stroke-width="5.6" stroke-dasharray="5.6 9.4"/>
<polyline points="2032.6,26.2 2020.6,34.3 1977.5,42.3 1960.1,50.4 1949.5,58.5 1942.9,66.5 1940.9,74.6 1938.5,82.6 1922,90.7 1907.4,98.8 1892.4,106.8 1880.4,114.9 1869.4,123 1860.3,131 1847.3,139.1 1836.3,147.1 1824.7,155.2 1810.3,163.3 1795.8,171.3 1780.2,179.4 1767.2,187.5 1751.2,195.5 1741.1,203.6 1732.1,211.6 1723.1,219.7 1717.1,227.8 1709.1,235.8 1702.5,243.9 1696.1,252 1693.1,260 1686.1,268.1 1682.8,276.1 1676.1,284.2 1672.9,292.3 1670.3,300.3 1665.3,308.4 1662.4,316.5 1659.5,324.5 1655.1,332.6 1652,340.6 1648.3,348.7 1643.5,356.8 1639.4,364.8 1635.2,372.9 1634.7,381 1631.3,389 1627.4,397.1 1623.1,405.1 1618.7,413.2 1616.2,421.3 1614.2,429.3 1609.3,437.4 1606.4,445.5 1603,453.5 1601.1,461.6 1598.2,469.6 1594.7,477.7 1589.2,485.8 1586,493.8 1582.3,501.9 1580.2,510 1576.4,518 1572.7,526.1 1571.5,534.1 1569.7,542.2 1568.3,550.3 1564.9,558.3 1562.8,566.4 1560.2,574.5 1559.1,582.5 1556.2,590.6 1553.9,598.6 1552.2,606.7 1550.8,614.8 1548.9,622.8 1547.2,630.9 1546,639 1543.6,647 1542.2,655.1 1542.4,663.2 1540.2,671.2 1538.3,679.3 1532.4,687.3 1529.6,695.4 1531.3,703.5 1528.2,711.5 1526,719.6 1522.9,727.7 1521.9,735.7 1521.4,743.8 1521.6,751.8 1518.5,759.9 1516.6,768 1512.6,776 1516.7,784.1 1515.2,792.2 1513.2,800.2 1510.2,808.3 1511.8,816.3 1512.2,824.4 1511.2,832.5 1509.2,840.5 1509.6,848.6 1510.2,856.7 1513.8,864.7 1510.8,872.8 1508.2,880.8 1509.8,888.9 1510.2,897 1509.6,905 1510.2,913.1 1508.2,921.2 1511.2,929.2 1508.8,937.3 1508.2,945.3 1507.3,953.4 1506,961.5 1505.4,969.5 1505.8,977.6 1506.5,985.7 1504.1,993.7 1501.6,1001.8 1500,1009.8 1500.3,1017.9 1503.2,1026 1499.7,1034 1499.6,1042.1 1497.2,1050.2 1499.4,1058.2 1495,1066.3 1496.1,1074.3 1495.1,1082.4 1493.1,1090.5 1492.1,1098.5 1490.5,1106.6 1489.1,1114.7 1489.5,1122.7 1489.1,1130.8 1485.1,1138.8 1484.1,1146.9 1483.1,1155 1481.1,1163 1480.1,1171.1 1477.1,1179.2 1477.1,1187.2 1475.1,1195.3 1473.7,1203.3 1472.1,1211.4 1471.7,1219.5 1472.1,1227.5 1470.1,1235.6" stroke="#ff8000" stroke-width="2"/>
<use href="#mx" x="2032.6" y="26.2"/><use href="#mx" x="2020.6" y="34.3"/><use href="#mx" x="1977.5" y="42.3"/><use href="#mx" x="1960.1" y="50.4"/><use href="#mx" x="1949.5" y="58.5"/><use href="#mx" x="1942.9" y="66.5"/><use href="#mx" x="1940.9" y="74.6"/><use href="#mx" x="1938.5" y="82.6"/><use href="#mx" x="1922" y="90.7"/><use href="#mx" x="1907.4" y="98.8"/><use href="#mx" x="1892.4" y="106.8"/><use href="#mx" x="1880.4" y="114.9"/><use href="#mx" x="1869.4" y="123"/><use href="#mx" x="1860.3" y="131"/><use href="#mx" x="1847.3" y="139.1"/><use href="#mx" x="1836.3" y="147.1"/><use href="#mx" x="1824.7" y="155.2"/><use href="#mx" x="1810.3" y="163.3"/><use href="#mx" x="1795.8" y="171.3"/><use href="#mx" x="1780.2" y="179.4"/><use href="#mx" x="1767.2" y="187.5"/><use href="#mx" x="1751.2" y="195.5"/><use href="#mx" x="1741.1" y="203.6"/><use href="#mx" x="1732.1" y="211.6"/><use href="#mx" x="1723.1" y="219.7"/><use href="#mx" x="1717.1" y="227.8"/><use href="#mx" x="1709.1" y="235.8"/><use href="#mx" x="1702.5" y="243.9"/><use href="#mx" x="1696.1" y="252"/><use href="#mx" x="1693.1" y="260"/><use href="#mx" x="1686.1" y="268.1"/><use href="#mx" x="1682.8" y="276.1"/><use href="#mx" x="1676.1" y="284.2"/><use href="#mx" x="1672.9" y="292.3"/><use href="#mx" x="1670.3" y="300.3"/><use href="#mx" x="1665.3" y="308.4"/><use href="#mx" x="1662.4" y="316.5"/><use href="#mx" x="1659.5" y="324.5"/><use href="#mx" x="1655.1" y="332.6"/><use href="#mx" x="1652" y="340.6"/><use href="#mx" x="1648.3" y="348.7"/><use href="#mx" x="1643.5" y="356.8"/><use href="#mx" x="1639.4" y="364.8"/><use href="#mx" x="1635.2" y="372.9"/><use href="#mx" x="1634.7" y="381"/><use href="#mx" x="1631.3" y="389"/><use href="#mx" x="1627.4" y="397.1"/><use href="#mx" x="1623.1" y="405.1"/><use href="#mx" x="1618.7" y="413.2"/><use href="#mx" x="1616.2" y="421.3"/><use href="#mx" x="1614.2" y="429.3"/><use href="#mx" x="1609.3" y="437.4"/><use href="#mx" x="1606.4" y="445.5"/><use href="#mx" x="1603" y="453.5"/><use href="#mx" x="1601.1" y="461.6"/><use href="#mx" x="1598.2" y="469.6"/><use href="#mx" x="1594.7" y="477.7"/><use href="#mx" x="1589.2" y="485.8"/><use href="#mx" x="1586" y="493.8"/><use href="#mx" x="1582.3" y="501.9"/><use href="#mx" x="1580.2" y="510"/><use href="#mx" x="1576.4" y="518"/><use href="#mx" x="1572.7" y="526.1"/><use href="#mx" x="1571.5" y="534.1"/><use href="#mx" x="1569.7" y="542.2"/><use href="#mx" x="1568.3" y="550.3"/><use href="#mx" x="1564.9" y="558.3"/><use href="#mx" x="1562.8" y="566.4"/><use href="#mx" x="1560.2" y="574.5"/><use href="#mx" x="1559.1" y="582.5"/><use href="#mx" x="1556.2" y="590.6"/><use href="#mx" x="1553.9" y="598.6"/><use href="#mx" x="1552.2" y="606.7"/><use href="#mx" x="1550.8" y="614.8"/><use href="#mx" x="1548.9" y="622.8"/><use href="#mx" x="1547.2" y="630.9"/><use href="#mx" x="1546" y="639"/><use href="#mx" x="1543.6" y="647"/><use href="#mx" x="1542.2" y="655.1"/><use href="#mx" x="1542.4" y="663.2"/><use href="#mx" x="1540.2" y="671.2"/><use href="#mx" x="1538.3" y="679.3"/><use href="#mx" x="1532.4" y="687.3"/><use href="#mx" x="1529.6" y="695.4"/><use href="#mx" x="1531.3" y="703.5"/><use href="#mx" x="1528.2" y="711.5"/><use href="#mx" x="1526" y="719.6"/><use href="#mx" x="1522.9" y="727.7"/><use href="#mx" x="1521.9" y="735.7"/><use href="#mx" x="1521.4" y="743.8"/><use href="#mx" x="1521.6" y="751.8"/><use href="#mx" x="1518.5" y="759.9"/><use href="#mx" x="1516.6" y="768"/><use href="#mx" x="1512.6" y="776"/><use href="#mx" x="1516.7" y="784.1"/><use href="#mx" x="1515.2" y="792.2"/><use href="#mx" x="1513.2" y="800.2"/><use href="#mx" x="1510.2" y="808.3"/><use href="#mx" x="1511.8" y="816.3"/><use href="#mx" x="1512.2" y="824.4"/><use href="#mx" x="1511.2" y="832.5"/><use href="#mx" x="1509.2" y="840.5"/><use href="#mx" x="1509.6" y="848.6"/><use href="#mx" x="1510.2" y="856.7"/><use href="#mx" x="1513.8" y="864.7"/><use href="#mx" x="1510.8" y="872.8"/><use href="#mx" x="1508.2" y="880.8"/><use href="#mx" x="1509.8" y="888.9"/><use href="#mx" x="1510.2" y="897"/><use href="#mx" x="1509.6" y="905"/><use href="#mx" x="1510.2" y="913.1"/><use href="#mx" x="1508.2" y="921.2"/><use href="#mx" x="1511.2" y="929.2"/><use href="#mx" x="1508.8" y="937.3"/><use href="#mx" x="1508.2" y="945.3"/><use href="#mx" x="1507.3" y="953.4"/><use href="#mx" x="1506" y="961.5"/><use href="#mx" x="1505.4" y="969.5"/><use href="#mx" x="1505.8" y="977.6"/><use href="#mx" x="1506.5" y="985.7"/><use href="#mx" x="1504.1" y="993.7"/><use href="#mx" x="1501.6" y="1001.8"/><use href="#mx" x="1500" y="1009.8"/><use href="#mx" x="1500.3" y="1017.9"/><use href="#mx" x="1503.2" y="1026"/><use href="#mx" x="1499.7" y="1034"/><use href="#mx" x="1499.6" y="1042.1"/><use href="#mx" x="1497.2" y="1050.2"/><use href="#mx" x="1499.4" y="1058.2"/><use href="#mx" x="1495" y="1066.3"/><use href="#mx" x="1496.1" y="1074.3"/><use href="#mx" x="1495.1" y="1082.4"/><use href="#mx" x="1493.1" y="1090.5"/><use href="#mx" x="1492.1" y="1098.5"/><use href="#mx" x="1490.5" y="1106.6"/><use href="#mx" x="1489.1" y="1114.7"/><use href="#mx" x="1489.5" y="1122.7"/><use href="#mx" x="1489.1" y="1130.8"/><use href="#mx" x="1485.1" y="1138.8"/><use href="#mx" x="1484.1" y="1146.9"/><use href="#mx" x="1483.1" y="1155"/><use href="#mx" x="1481.1" y="1163"/><use href="#mx" x="1480.1" y="1171.1"/><use href="#mx" x="1477.1" y="1179.2"/><use href="#mx" x="1477.1" y="1187.2"/><use href="#mx" x="1475.1" y="1195.3"/><use href="#mx" x="1473.7" y="1203.3"/><use href="#mx" x="1472.1" y="1211.4"/><use href="#mx" x="1471.7" y="1219.5"/><use href="#mx" x="1472.1" y="1227.5"/><use href="#mx" x="1470.1" y="1235.6"/>
<polyline points="2015.6,26.2 1997.2,34.3 1958.5,42.3 1942.1,50.4 1931,58.5 1924.4,66.5 1923.8,74.6 1923.4,82.6 1908.4,90.7 1892,98.8 1878.4,106.8 1867.3,114.9 1855.7,123 1847.9,131 1836.3,139.1 1826.7,147.1 1813.9,155.2 1801.6,163.3 1786.2,171.3 1769.8,179.4 1756.8,187.5 1742.5,195.5 1733.1,203.6 1724.1,211.6 1715.7,219.7 1707.1,227.8 1700.1,235.8 1694.1,243.9 1687.7,252 1683.5,260 1679.2,268.1 1675.4,276.1 1668.3,284.2 1664.7,292.3 1661.7,300.3 1656.3,308.4 1653.3,316.5 1650.3,324.5 1645.9,332.6 1642.7,340.6 1638.9,348.7 1634.3,356.8 1630.3,364.8 1626.3,372.9 1625.9,381 1622.7,389 1618.7,397.1 1614.3,405.1 1609.9,413.2 1607.3,421.3 1605.2,429.3 1600.2,437.4 1597.2,445.5 1593.6,453.5 1591.6,461.6 1588.6,469.6 1585.2,477.7 1579.8,485.8 1576.8,493.8 1573.2,501.9 1571.2,510 1567.2,518 1563.3,526.1 1561.9,534.1 1559.9,542.2 1558.3,550.3 1554.6,558.3 1552.2,566.4 1549.2,574.5 1547.8,582.5 1544.6,590.6 1542.6,598.6 1541.2,606.7 1540.2,614.8 1538.6,622.8 1537.2,630.9 1535.8,639 1533.2,647 1531.6,655.1 1531.6,663.2 1529.2,671.2 1528.2,679.3 1523.2,687.3 1521.2,695.4 1523.8,703.5 1521.6,711.5 1519.8,719.6 1517.2,727.7 1516.6,735.7 1516.6,743.8 1517.2,751.8 1514.6,759.9 1513.2,768 1509.6,776 1514.2,784.1 1513.2,792.2 1511.2,800.2 1508.2,808.3 1509.8,816.3 1510.2,824.4 1509.2,832.5 1507.2,840.5 1507.6,848.6 1508.2,856.7 1509.2,864.7 1508.8,872.8 1506.2,880.8 1507.8,888.9 1508.2,897 1507.6,905 1508.2,913.1 1506.2,921.2 1507.2,929.2 1506.8,937.3 1506.2,945.3 1505.2,953.4 1503.8,961.5 1503.2,969.5 1503.6,977.6 1504.2,985.7 1501.8,993.7 1499.2,1001.8 1497.6,1009.8 1497.8,1017.9 1498.2,1026 1497.2,1034 1497,1042.1 1494.5,1050.2 1496.6,1058.2 1492.1,1066.3 1493.1,1074.3 1492.1,1082.4 1490.1,1090.5 1489.1,1098.5 1487.5,1106.6 1486.1,1114.7 1486.5,1122.7 1486.1,1130.8 1482.1,1138.8 1481.1,1146.9 1480.1,1155 1478.1,1163 1477.1,1171.1 1474.1,1179.2 1474.1,1187.2 1472.1,1195.3 1470.7,1203.3 1469.1,1211.4 1468.7,1219.5 1469.1,1227.5 1467.1,1235.6" stroke="#ff0000" stroke-width="3.6"/>
<use href="#md" x="2015.6" y="26.2"/><use href="#md" x="1997.2" y="34.3"/><use href="#md" x="1958.5" y="42.3"/><use href="#md" x="1942.1" y="50.4"/><use href="#md" x="1931" y="58.5"/><use href="#md" x="1924.4" y="66.5"/><use href="#md" x="1923.8" y="74.6"/><use href="#md" x="1923.4" y="82.6"/><use href="#md" x="1908.4" y="90.7"/><use href="#md" x="1892" y="98.8"/><use href="#md" x="1878.4" y="106.8"/><use href="#md" x="1867.3" y="114.9"/><use href="#md" x="1855.7" y="123"/><use href="#md" x="1847.9" y="131"/><use href="#md" x="1836.3" y="139.1"/><use href="#md" x="1826.7" y="147.1"/><use href="#md" x="1813.9" y="155.2"/><use href="#md" x="1801.6" y="163.3"/><use href="#md" x="1786.2" y="171.3"/><use href="#md" x="1769.8" y="179.4"/><use href="#md" x="1756.8" y="187.5"/><use href="#md" x="1742.5" y="195.5"/><use href="#md" x="1733.1" y="203.6"/><use href="#md" x="1724.1" y="211.6"/><use href="#md" x="1715.7" y="219.7"/><use href="#md" x="1707.1" y="227.8"/><use href="#md" x="1700.1" y="235.8"/><use href="#md" x="1694.1" y="243.9"/><use href="#md" x="1687.7" y="252"/><use href="#md" x="1683.5" y="260"/><use href="#md" x="1679.2" y="268.1"/><use href="#md" x="1675.4" y="276.1"/><use href="#md" x="1668.3" y="284.2"/><use href="#md" x="1664.7" y="292.3"/><use href="#md" x="1661.7" y="300.3"/><use href="#md" x="1656.3" y="308.4"/><use href="#md" x="1653.3" y="316.5"/><use href="#md" x="1650.3" y="324.5"/><use href="#md" x="1645.9" y="332.6"/><use href="#md" x="1642.7" y="340.6"/><use href="#md" x="1638.9" y="348.7"/><use href="#md" x="1634.3" y="356.8"/><use href="#md" x="1630.3" y="364.8"/><use href="#md" x="1626.3" y="372.9"/><use href="#md" x="1625.9" y="381"/><use href="#md" x="1622.7" y="389"/><use href="#md" x="1618.7" y="397.1"/><use href="#md" x="1614.3" y="405.1"/><use href="#md" x="1609.9" y="413.2"/><use href="#md" x="1607.3" y="421.3"/><use href="#md" x="1605.2" y="429.3"/><use href="#md" x="1600.2" y="437.4"/><use href="#md" x="1597.2" y="445.5"/><use href="#md" x="1593.6" y="453.5"/><use href="#md" x="1591.6" y="461.6"/><use href="#md" x="1588.6" y="469.6"/><use href="#md" x="1585.2" y="477.7"/><use href="#md" x="1579.8" y="485.8"/><use href="#md" x="1576.8" y="493.8"/><use href="#md" x="1573.2" y="501.9"/><use href="#md" x="1571.2" y="510"/><use href="#md" x="1567.2" y="518"/><use href="#md" x="1563.3" y="526.1"/><use href="#md" x="1561.9" y="534.1"/><use href="#md" x="1559.9" y="542.2"/><use href="#md" x="1558.3" y="550.3"/><use href="#md" x="1554.6" y="558.3"/><use href="#md" x="1552.2" y="566.4"/><use href="#md" x="1549.2" y="574.5"/><use href="#md" x="1547.8" y="582.5"/><use href="#md" x="1544.6" y="590.6"/><use href="#md" x="1542.6" y="598.6"/><use href="#md" x="1541.2" y="606.7"/><use href="#md" x="1540.2" y="614.8"/><use href="#md" x="1538.6" y="622.8"/><use href="#md" x="1537.2" y="630.9"/><use href="#md" x="1535.8" y="639"/><use href="#md" x="1533.2" y="647"/><use href="#md" x="1531.6" y="655.1"/><use href="#md" x="1531.6" y="663.2"/><use href="#md" x="1529.2" y="671.2"/><use href="#md" x="1528.2" y="679.3"/><use href="#md" x="1523.2" y="687.3"/><use href="#md" x="1521.2" y="695.4"/><use href="#md" x="1523.8" y="703.5"/><use href="#md" x="1521.6" y="711.5"/><use href="#md" x="1519.8" y="719.6"/><use href="#md" x="1517.2" y="727.7"/><use href="#md" x="1516.6" y="735.7"/><use href="#md" x="1516.6" y="743.8"/><use href="#md" x="1517.2" y="751.8"/><use href="#md" x="1514.6" y="759.9"/><use href="#md" x="1513.2" y="768"/><use href="#md" x="1509.6" y="776"/><use href="#md" x="1514.2" y="784.1"/><use href="#md" x="1513.2" y="792.2"/><use href="#md" x="1511.2" y="800.2"/><use href="#md" x="1508.2" y="808.3"/><use href="#md" x="1509.8" y="816.3"/><use href="#md" x="1510.2" y="824.4"/><use href="#md" x="1509.2" y="832.5"/><use href="#md" x="1507.2" y="840.5"/><use href="#md" x="1507.6" y="848.6"/><use href="#md" x="1508.2" y="856.7"/><use href="#md" x="1509.2" y="864.7"/><use href="#md" x="1508.8" y="872.8"/><use href="#md" x="1506.2" y="880.8"/><use href="#md" x="1507.8" y="888.9"/><use href="#md" x="1508.2" y="897"/><use href="#md" x="1507.6" y="905"/><use href="#md" x="1508.2" y="913.1"/><use href="#md" x="1506.2" y="921.2"/><use href="#md" x="1507.2" y="929.2"/><use href="#md" x="1506.8" y="937.3"/><use href="#md" x="1506.2" y="945.3"/><use href="#md" x="1505.2" y="953.4"/><use href="#md" x="1503.8" y="961.5"/><use href="#md" x="1503.2" y="969.5"/><use href="#md" x="1503.6" y="977.6"/><use href="#md" x="1504.2" y="985.7"/><use href="#md" x="1501.8" y="993.7"/><use href="#md" x="1499.2" y="1001.8"/><use href="#md" x="1497.6" y="1009.8"/><use href="#md" x="1497.8" y="1017.9"/><use href="#md" x="1498.2" y="1026"/><use href="#md" x="1497.2" y="1034"/><use href="#md" x="1497" y="1042.1"/><use href="#md" x="1494.5" y="1050.2"/><use href="#md" x="1496.6" y="1058.2"/><use href="#md" x="1492.1" y="1066.3"/><use href="#md" x="1493.1" y="1074.3"/><use href="#md" x="1492.1" y="1082.4"/><use href="#md" x="1490.1" y="1090.5"/><use href="#md" x="1489.1" y="1098.5"/><use href="#md" x="1487.5" y="1106.6"/><use href="#md" x="1486.1" y="1114.7"/><use href="#md" x="1486.5" y="1122.7"/><use href="#md" x="1486.1" y="1130.8"/><use href="#md" x="1482.1" y="1138.8"/><use href="#md" x="1481.1" y="1146.9"/><use href="#md" x="1480.1" y="1155"/><use href="#md" x="1478.1" y="1163"/><use href="#md" x="1477.1" y="1171.1"/><use href="#md" x="1474.1" y="1179.2"/><use href="#md" x="1474.1" y="1187.2"/><use href="#md" x="1472.1" y="1195.3"/><use href="#md" x="1470.7" y="1203.3"/><use href="#md" x="1469.1" y="1211.4"/><use href="#md" x="1468.7" y="1219.5"/><use href="#md" x="1469.1" y="1227.5"/><use href="#md" x="1467.1" y="1235.6"/>
</g>
<path d="M1412.3,26.2h-4.3 M1412.3,187.5h-4.3 M1412.3,348.7h-4.3 M1412.3,510h-4.3 M1412.3,671.2h-4.3 M1412.3,832.5h-4.3 M1412.3,993.7h-4.3 M1412.3,1155h-4.3 M1520.2,1235.6v4.3 M1688.4,1235.6v4.3 M1856.6,1235.6v4.3 M2024.8,1235.6v4.3 M2193,1235.6v4.3 M2361.2,1235.6v4.3" stroke="#2a2a2a" stroke-width="1.4" fill="none"/>
<path d="M1412.3,66.5h-2.6 M1412.3,106.8h-2.6 M1412.3,147.1h-2.6 M1412.3,227.8h-2.6 M1412.3,268.1h-2.6 M1412.3,308.4h-2.6 M1412.3,389h-2.6 M1412.3,429.3h-2.6 M1412.3,469.6h-2.6 M1412.3,550.3h-2.6 M1412.3,590.6h-2.6 M1412.3,630.9h-2.6 M1412.3,711.5h-2.6 M1412.3,751.8h-2.6 M1412.3,792.2h-2.6 M1412.3,872.8h-2.6 M1412.3,913.1h-2.6 M1412.3,953.4h-2.6 M1412.3,1034h-2.6 M1412.3,1074.3h-2.6 M1412.3,1114.7h-2.6 M1412.3,1195.3h-2.6" stroke="#2a2a2a" stroke-width="1.1" fill="none"/>
<rect x="1412.3" y="26.2" width="1076.5" height="1209.4" fill="none" stroke="#2a2a2a" stroke-width="1.4"/>
<rect x="1884.3" y="861.8" width="581.9" height="351.3" rx="7" ry="7" fill="#fff" fill-opacity="0.8" stroke="#dbdbdb" stroke-width="1.5"/>
<g fill="none">
<path d="M1902.6,896.4H1993" stroke="#0000ff" stroke-width="4.7" stroke-linecap="square"/>
<path d="M1902.6,964.0H1993" stroke="#008000" stroke-width="4.6" stroke-dasharray="16.9 7.3"/>
<path d="M1902.6,1031.55H1993" stroke="#800080" stroke-width="5.6" stroke-dasharray="5.6 9.4"/>
<path d="M1902.6,1099.05H1993" stroke="#ff8000" stroke-width="2" stroke-linecap="square"/>
<use href="#mx" x="1947.8" y="1099.05"/>
<path d="M1902.6,1166.75H1993" stroke="#ff0000" stroke-width="3.6" stroke-linecap="square"/>
<use href="#md" x="1947.8" y="1166.75"/>
</g>
<text y="912.2" font-size="48.5"  xml:space="preserve"><tspan x="2028.7" textLength="246.1" lengthAdjust="spacingAndGlyphs">Climatology</tspan><tspan> </tspan><tspan x="2285.8" textLength="161" lengthAdjust="spacingAndGlyphs">(iCLIM)</tspan></text>
<text x="2029.3" y="979.5" font-size="48.5" textLength="120.5" lengthAdjust="spacingAndGlyphs">LSTM</text>
<text x="2029.3" y="1047.0" font-size="48.5" textLength="147.3" lengthAdjust="spacingAndGlyphs">BLSTM</text>
<text x="2029.3" y="1114.7" font-size="48.5" textLength="131.8" lengthAdjust="spacingAndGlyphs">bCNN</text>
<text x="2029.3" y="1182.3" font-size="48.5" textLength="140.5" lengthAdjust="spacingAndGlyphs">OCNN</text>
<text x="1403.3" y="42.9" font-size="50" text-anchor="end" textLength="23.7" lengthAdjust="spacingAndGlyphs">0</text>
<text x="1403.3" y="204.2" font-size="50" text-anchor="end" textLength="71.1" lengthAdjust="spacingAndGlyphs">200</text>
<text x="1403.3" y="365.4" font-size="50" text-anchor="end" textLength="71.1" lengthAdjust="spacingAndGlyphs">400</text>
<text x="1403.3" y="526.7" font-size="50" text-anchor="end" textLength="71.1" lengthAdjust="spacingAndGlyphs">600</text>
<text x="1403.3" y="687.9" font-size="50" text-anchor="end" textLength="71.1" lengthAdjust="spacingAndGlyphs">800</text>
<text x="1403.3" y="849.2" font-size="50" text-anchor="end" textLength="94.8" lengthAdjust="spacingAndGlyphs">1000</text>
<text x="1403.3" y="1010.4" font-size="50" text-anchor="end" textLength="94.8" lengthAdjust="spacingAndGlyphs">1200</text>
<text x="1403.3" y="1171.7" font-size="50" text-anchor="end" textLength="94.8" lengthAdjust="spacingAndGlyphs">1400</text>
<text x="1518.7" y="1278" font-size="50" text-anchor="middle" textLength="83" lengthAdjust="spacingAndGlyphs">0.05</text>
<text x="1686.9" y="1278" font-size="50" text-anchor="middle" textLength="83" lengthAdjust="spacingAndGlyphs">0.10</text>
<text x="1855.1" y="1278" font-size="50" text-anchor="middle" textLength="83" lengthAdjust="spacingAndGlyphs">0.15</text>
<text x="2023.3" y="1278" font-size="50" text-anchor="middle" textLength="83" lengthAdjust="spacingAndGlyphs">0.20</text>
<text x="2191.5" y="1278" font-size="50" text-anchor="middle" textLength="83" lengthAdjust="spacingAndGlyphs">0.25</text>
<text x="2359.7" y="1278" font-size="50" text-anchor="middle" textLength="83" lengthAdjust="spacingAndGlyphs">0.30</text>
<text y="1333" font-size="53"  xml:space="preserve"><tspan x="1779" textLength="175" lengthAdjust="spacingAndGlyphs">Salinity</tspan><tspan> </tspan><tspan x="1967" textLength="151" lengthAdjust="spacingAndGlyphs">[g/kg]</tspan></text>
<text transform="translate(49,750.5) rotate(-90)" x="0" y="0" font-size="53.5" textLength="236.3" lengthAdjust="spacingAndGlyphs">Depth [m]</text>
</svg>
</body>
</html>
